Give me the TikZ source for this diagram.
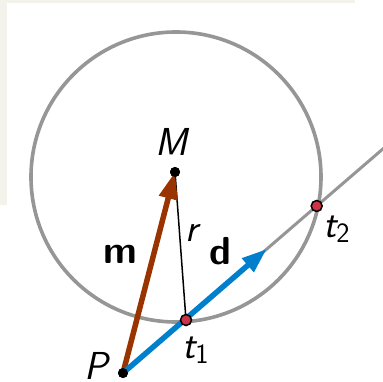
\documentclass[tikz,border=0pt]{standalone}
\usepackage{fontspec}
\usetikzlibrary{arrows.meta}
\definecolor{bgbeige}{RGB}{243,243,236}
\definecolor{circgrey}{RGB}{150,150,150}
\definecolor{mbrown}{RGB}{153,51,0}
\definecolor{dblue}{RGB}{0,128,204}
\definecolor{ptred}{RGB}{204,51,68}
\tikzset{
  blackdot/.style={circle,fill=black,inner sep=0pt,minimum size=10pt},
  reddot/.style={circle,fill=ptred,draw=black,line width=1.5pt,inner sep=0pt,minimum size=11pt},
  lbl/.style={inner sep=0pt,font=\fontsize{39}{40}\selectfont\sffamily},
  vecm/.style={mbrown,line width=5.5pt,-{Triangle[length=27pt,width=18pt]}},
  vecd/.style={dblue,line width=5.5pt,-{Triangle[length=25pt,width=17pt]}},
  greyline/.style={circgrey,line width=3pt},
  circline/.style={circgrey,line width=3.6pt},
  radline/.style={black,line width=1.5pt}
}
\newcommand{\subnum}[1]{\raisebox{-5pt}{\upshape\fontsize{28}{28}\selectfont #1}}
\begin{document}
\begin{tikzpicture}[x=1pt,y=-1pt]
\useasboundingbox (0,0) rectangle (383,382);
\clip (0,0) rectangle (383,382);
\fill[bgbeige] (0,0) rectangle (355,205.5);
\fill[white] (7,3) rectangle (383,382);
\draw[circline] (176,177) circle[radius=145];
\node[blackdot] (M) at (175,172) {};
\node[blackdot] (P) at (123,373) {};
\coordinate (E) at (390,142.8);
\coordinate (D) at (266.7,249);
\coordinate (T1) at (186,320);
\coordinate (T2) at (316.7,206);
\draw[greyline] (P.center) -- (E);
\draw[radline] (M.center) -- (T1);
\draw[vecm] (P.center) -- (M.center);
\draw[vecd] (P.center) -- (D);
\node[blackdot] at (M) {};
\node[blackdot] at (P) {};
\node[reddot] (t1) at (T1) {};
\node[reddot] (t2) at (T2) {};
\node[lbl,anchor=base] (lM) at (171,156) {\itshape M};
\node[lbl,anchor=base] (lP) at (96,379) {\itshape P};
\node[lbl,anchor=base] (lm) at (120.5,264) {\bfseries m};
\node[lbl,anchor=base] (ld) at (220,265) {\bfseries d};
\node[lbl,anchor=base west] (lr) at (185,242) {\itshape r};
\node[lbl,anchor=base west] (lt1) at (182,358) {\itshape t\subnum{1}};
\node[lbl,anchor=base west] (lt2) at (323,238) {\itshape t\subnum{2}};
\end{tikzpicture}
\end{document}
